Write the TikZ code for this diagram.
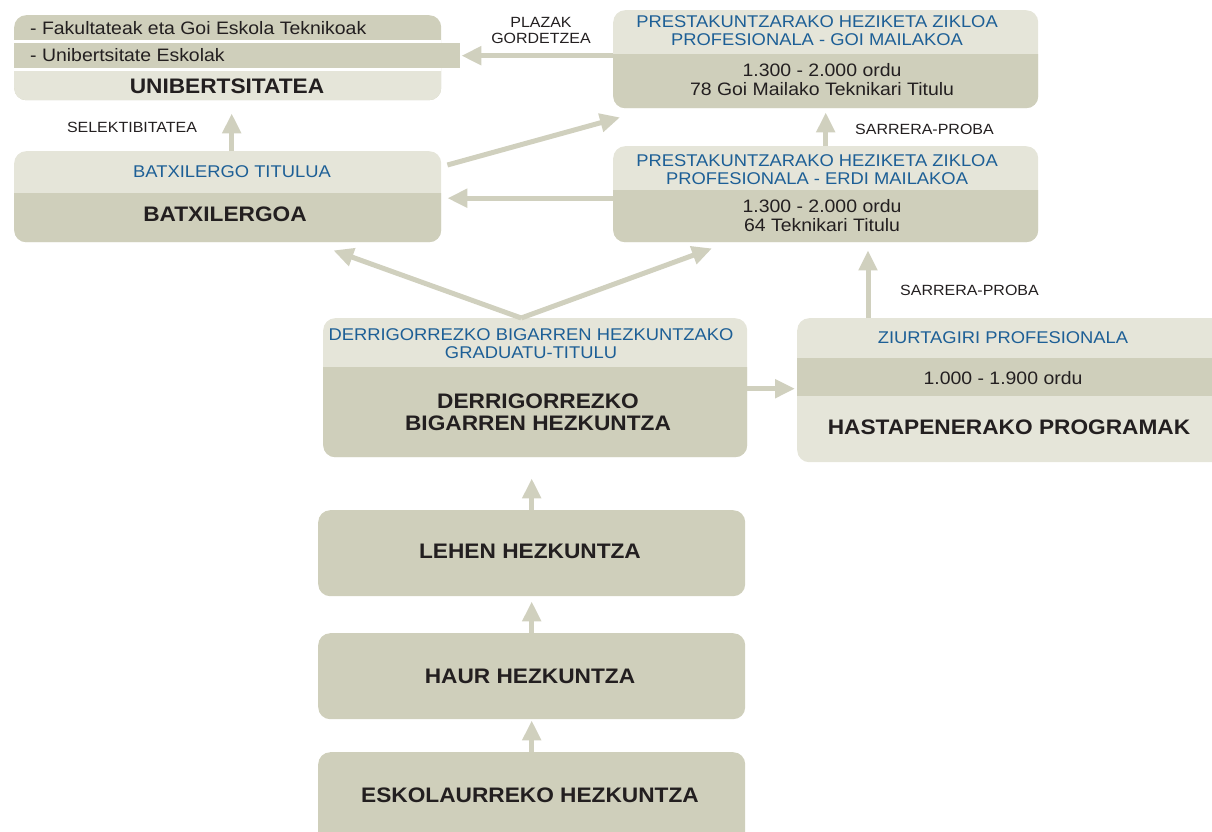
\documentclass[tikz,border=0pt]{standalone}
\usepackage{fontspec}
\setmainfont{Liberation Sans}
\newfontfamily\txtf[FakeStretch=1.08]{Liberation Sans}
\usetikzlibrary{arrows.meta}
\definecolor{lite}{HTML}{E5E5D9}
\definecolor{dark}{HTML}{CFCFBB}
\definecolor{arrowc}{HTML}{D0D0BE}
\definecolor{titblue}{HTML}{1D5F96}
\definecolor{ink}{HTML}{231F20}
% band inside a box, measured down from its top edge
\newcommand\band[3]{\fill[#3,sharp corners] ([yshift=-#1pt,xshift=-20pt]path picture bounding box.north west) rectangle ([yshift=-#2pt,xshift=20pt]path picture bounding box.north east);}
\tikzset{
  box/.style={rounded corners=12pt,inner sep=0pt,anchor=north west},
  txt/.style={font=\txtf\fontsize{18}{19}\selectfont,text=ink,align=center,inner sep=0pt},
  bluetxt/.style={font=\txtf\fontsize{17}{18}\selectfont,text=titblue,align=center,inner sep=0pt},
  bigtxt/.style={font=\txtf\bfseries\fontsize{21}{22}\selectfont,text=ink,align=center,inner sep=0pt},
  lbl/.style={font=\txtf\fontsize{14.8}{16}\selectfont,text=ink,align=center,inner sep=0pt},
  arr/.style={draw=arrowc,line width=5pt,-{Triangle[width=18pt,length=20pt]}}
}
\begin{document}
\begin{tikzpicture}[x=1pt,y=1pt]
\useasboundingbox (0,0) rectangle (1212,-832);
\clip (0,0) rectangle (1212,-832);
% boxes
\node[box,fill=dark,minimum width=427pt,minimum height=85pt,
  path picture={\band{25}{28}{white}\band{53}{56}{white}\band{56}{95}{lite}}] (uni) at (14,-15) {};
\node[anchor=north west,inner sep=0pt,fill=dark,minimum width=20pt,minimum height=25pt] (unitab) at (440,-43) {};
\node[box,fill=lite,minimum width=425pt,minimum height=98pt,
  path picture={\band{44}{110}{dark}}] (goi) at (613,-10) {};
\node[box,fill=lite,minimum width=425pt,minimum height=96pt,
  path picture={\band{44}{110}{dark}}] (erdi) at (613,-146) {};
\node[box,fill=lite,minimum width=427pt,minimum height=91pt,
  path picture={\band{42}{110}{dark}}] (batx) at (14,-151) {};
\node[box,fill=lite,minimum width=424pt,minimum height=139pt,
  path picture={\band{49}{150}{dark}}] (dbh) at (323,-318) {};
\node[box,fill=lite,minimum width=440pt,minimum height=144pt,
  path picture={\band{40}{78}{dark}}] (has) at (797,-318) {};
\node[box,fill=dark,minimum width=427pt,minimum height=86pt] (lehen) at (318,-510) {};
\node[box,fill=dark,minimum width=427pt,minimum height=86pt] (haur) at (318,-633) {};
\node[box,fill=dark,minimum width=427pt,minimum height=100pt] (esko) at (318,-752) {};

% texts
\node[txt,anchor=west] (fak) at (30,-28) {- Fakultateak eta Goi Eskola Teknikoak};
\node[txt,anchor=west] (ueskola) at (30,-55) {- Unibertsitate Eskolak};
\node[bigtxt] (unit) at (227,-86) {UNIBERTSITATEA};
\node[bluetxt] (goib) at (817,-31) {PRESTAKUNTZARAKO HEZIKETA ZIKLOA\\PROFESIONALA - GOI MAILAKOA};
\node[txt] (goid) at (822,-80) {1.300 - 2.000 ordu\\78 Goi Mailako Teknikari Titulu};
\node[bluetxt] (erdib) at (817,-170) {PRESTAKUNTZARAKO HEZIKETA ZIKLOA\\PROFESIONALA - ERDI MAILAKOA};
\node[txt] (erdid) at (822,-216) {1.300 - 2.000 ordu\\64 Teknikari Titulu};
\node[bluetxt] (batxb) at (232,-172) {BATXILERGO TITULUA};
\node[bigtxt] (batxt) at (225,-214) {BATXILERGOA};
\node[bluetxt] (dbhb) at (531,-344) {DERRIGORREZKO BIGARREN HEZKUNTZAKO\\GRADUATU-TITULU};
\node[bigtxt] (dbht) at (538,-412) {DERRIGORREZKO\\BIGARREN HEZKUNTZA};
\node[bluetxt] (hasb) at (1003,-338) {ZIURTAGIRI PROFESIONALA};
\node[txt] (hasd) at (1003,-378) {1.000 - 1.900 ordu};
\node[bigtxt] (hast) at (1009,-427) {HASTAPENERAKO PROGRAMAK};
\node[bigtxt] (leht) at (530,-551) {LEHEN HEZKUNTZA};
\node[bigtxt] (haurt) at (530,-676) {HAUR HEZKUNTZA};
\node[bigtxt] (eskot) at (530,-795) {ESKOLAURREKO HEZKUNTZA};
\node[lbl] (plaz) at (541,-30) {PLAZAK\\GORDETZEA};
\node[lbl,anchor=west] (sarr1) at (855,-129) {SARRERA-PROBA};
\node[lbl] (selek) at (132,-127) {SELEKTIBITATEA};
\node[lbl,anchor=west] (sarr2) at (900,-290) {SARRERA-PROBA};

% arrows
\coordinate (erdiw) at ([yshift=-4pt]erdi.west);
\coordinate (fork) at ([xshift=-14pt]dbh.north);
\coordinate (dbhe) at ([yshift=-1pt]dbh.east);
\coordinate (hasup) at ([xshift=71pt]has.north west);
\draw[arr,shorten >=1pt] (goi.west |- unitab) -- (unitab.east);
\draw[arr,shorten >=4pt] (erdi.north) -- (goi.south);
\draw[arr,shorten >=13pt] ([xshift=4pt]batx.north) -- ([xshift=4pt]uni.south);
\draw[arr] ([shift={(6pt,-14pt)}]batx.north east) -- ([shift={(7pt,-9pt)}]goi.south west);
\draw[arr,shorten >=6pt] (erdiw) -- (erdiw -| batx.east);
\draw[arr] (fork) -- ([shift={(-108pt,-8pt)}]batx.south east);
\draw[arr] (fork) -- ([shift={(99pt,-6pt)}]erdi.south west);
\draw[arr,shorten >=2pt] (dbhe) -- (dbhe -| has.west);
\draw[arr,shorten >=8pt] (hasup) -- (hasup |- erdi.south);
\draw[arr,shorten >=21pt] (lehen.north) -- (lehen.north |- dbh.south);
\draw[arr,shorten >=5pt] (haur.north) -- (lehen.south);
\draw[arr,shorten >=1pt] (esko.north) -- (haur.south);
\end{tikzpicture}
\end{document}
